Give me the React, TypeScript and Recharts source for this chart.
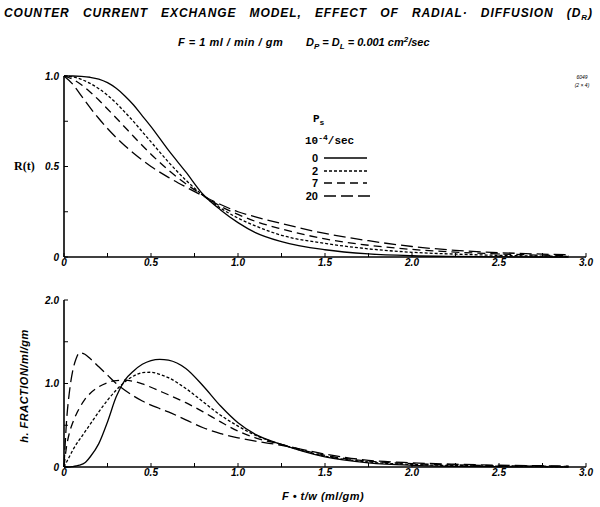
import { LineChart, Line, XAxis, YAxis } from "recharts";

const xTop = [0, 0.05, 0.1, 0.15, 0.2, 0.25, 0.3, 0.35, 0.4, 0.45, 0.5, 0.6, 0.7, 0.8, 0.9, 1.0, 1.1, 1.25, 1.5, 1.75, 2.0, 2.25, 2.5, 2.75, 2.9];

// R(t) for Ps = 0, 2, 7, 20 (x10^-4 /sec)
const r0 = [1, 1, 0.998, 0.993, 0.983, 0.963, 0.932, 0.89, 0.84, 0.78, 0.72, 0.59, 0.47, 0.345, 0.26, 0.19, 0.135, 0.085, 0.04, 0.017, 0.007, 0.003, 0.001, 0, 0];
const r2 = [1, 0.995, 0.981, 0.959, 0.93, 0.894, 0.85, 0.8, 0.748, 0.692, 0.636, 0.525, 0.425, 0.34, 0.27, 0.215, 0.172, 0.12, 0.075, 0.045, 0.026, 0.016, 0.009, 0.005, 0.003];
const r7 = [1, 0.982, 0.952, 0.912, 0.867, 0.818, 0.768, 0.717, 0.666, 0.616, 0.568, 0.48, 0.405, 0.34, 0.28, 0.235, 0.197, 0.155, 0.1, 0.065, 0.042, 0.027, 0.017, 0.01, 0.007];
const r20 = [1, 0.955, 0.89, 0.825, 0.765, 0.71, 0.66, 0.615, 0.573, 0.535, 0.5, 0.44, 0.387, 0.337, 0.29, 0.25, 0.222, 0.185, 0.13, 0.09, 0.058, 0.037, 0.024, 0.016, 0.012];

const xBot = [0, 0.015, 0.03, 0.05, 0.07, 0.09, 0.12, 0.15, 0.2, 0.25, 0.3, 0.35, 0.4, 0.45, 0.5, 0.55, 0.6, 0.7, 0.8, 0.9, 1.0, 1.1, 1.25, 1.5, 1.75, 2.0, 2.25, 2.5, 2.75, 2.9];

// h (fraction / ml / gm)
const h0 = [0, 0, 0, 0.005, 0.012, 0.022, 0.05, 0.12, 0.28, 0.54, 0.84, 1.04, 1.15, 1.23, 1.275, 1.29, 1.28, 1.18, 0.97, 0.73, 0.53, 0.39, 0.27, 0.12, 0.05, 0.02, 0.008, 0.003, 0.001, 0];
const h2 = [0, 0.06, 0.12, 0.2, 0.27, 0.33, 0.42, 0.51, 0.66, 0.8, 0.92, 1.02, 1.09, 1.13, 1.135, 1.11, 1.07, 0.94, 0.78, 0.62, 0.49, 0.38, 0.27, 0.13, 0.06, 0.03, 0.018, 0.01, 0.006, 0.004];
const h7 = [0, 0.25, 0.4, 0.53, 0.63, 0.71, 0.81, 0.88, 0.96, 1.01, 1.035, 1.04, 1.025, 0.995, 0.955, 0.91, 0.865, 0.77, 0.66, 0.54, 0.43, 0.35, 0.27, 0.14, 0.07, 0.04, 0.025, 0.016, 0.01, 0.007];
const h20 = [0, 0.56, 0.88, 1.15, 1.3, 1.37, 1.35, 1.3, 1.2, 1.1, 1.0, 0.92, 0.85, 0.79, 0.74, 0.7, 0.66, 0.565, 0.47, 0.4, 0.35, 0.31, 0.26, 0.155, 0.08, 0.05, 0.033, 0.022, 0.015, 0.011];

const psLabels = ["0", "2", "7", "20"];
const seriesKeys = ["s0", "s2", "s7", "s20"];

const xTicks = [0, 0.25, 0.5, 0.75, 1, 1.25, 1.5, 1.75, 2, 2.25, 2.5, 2.75, 3];
const topYTicks = [0, 0.25, 0.5, 0.75, 1];
const botYTicks = [0, 0.5, 1, 1.5, 2];

const topRows = xTop.map((x, i) => ({ x, s0: r0[i], s2: r2[i], s7: r7[i], s20: r20[i] }));
const botRows = xBot.map((x, i) => ({ x, s0: h0[i], s2: h2[i], s7: h7[i], s20: h20[i] }));

// line looks, same order as psLabels
const dashes = [undefined, "3 2", "8 5", "12 5"];

const letterFont = "'Liberation Sans', Arial, sans-serif";
const tickFont = { fill: "#000", fontSize: 10, fontStyle: "italic", fontWeight: 700, fontFamily: letterFont };
const axisLine = { stroke: "#000", strokeWidth: 1.6 };
const tickLine = { stroke: "#000", strokeWidth: 1 };

const fmtX = (v: number) => (v === 0 ? "0" : v % 0.5 === 0 ? v.toFixed(1) : "");
const fmtTopY = (v: number) => (v === 0 ? "0" : v === 0.5 || v === 1 ? v.toFixed(1) : "");
const fmtBotY = (v: number) => (v === 0 ? "0" : v === 1 || v === 2 ? v.toFixed(1) : "");

function Curves() {
  return seriesKeys.map((k, i) => (
    <Line
      key={k}
      type="monotone"
      dataKey={k}
      stroke="#000"
      strokeWidth={1.3}
      strokeDasharray={dashes[i]}
      dot={false}
      activeDot={false}
      isAnimationActive={false}
    />
  ));
}

export default function App() {
  return (
    <div style={{ position: "absolute", left: 0, top: 0, width: 600, height: 507, background: "#fff" }}>
      {/* R(t) */}
      <div style={{ position: "absolute", left: 0, top: 0 }}>
        <LineChart width={600} height={280} data={topRows} margin={{ top: 76, right: 14, bottom: 5, left: 0 }}>
          <XAxis
            dataKey="x"
            type="number"
            domain={[0, 3]}
            ticks={xTicks}
            interval={0}
            tickFormatter={fmtX}
            axisLine={axisLine}
            tickLine={tickLine}
            tickSize={-4}
            tickMargin={6}
            tick={tickFont}
            height={18}
          />
          <YAxis
            type="number"
            domain={[0, 1]}
            ticks={topYTicks}
            interval={0}
            tickFormatter={fmtTopY}
            axisLine={axisLine}
            tickLine={tickLine}
            tickSize={-4}
            tickMargin={9}
            tick={tickFont}
            width={64}
          />
          {Curves()}
        </LineChart>
      </div>

      {/* h */}
      <div style={{ position: "absolute", left: 0, top: 280 }}>
        <LineChart width={600} height={227} data={botRows} margin={{ top: 20, right: 14, bottom: 20, left: 0 }}>
          <XAxis
            dataKey="x"
            type="number"
            domain={[0, 3]}
            ticks={xTicks}
            interval={0}
            tickFormatter={fmtX}
            axisLine={axisLine}
            tickLine={tickLine}
            tickSize={-4}
            tickMargin={6}
            tick={tickFont}
            height={20}
          />
          <YAxis
            type="number"
            domain={[0, 2]}
            ticks={botYTicks}
            interval={0}
            tickFormatter={fmtBotY}
            axisLine={axisLine}
            tickLine={tickLine}
            tickSize={-4}
            tickMargin={9}
            tick={tickFont}
            width={64}
          />
          {Curves()}
        </LineChart>
      </div>

      {/* titles, axis names, legend */}
      <svg width={600} height={507} style={{ position: "absolute", left: 0, top: 0, pointerEvents: "none" }}>
        <g fontFamily={letterFont} fontStyle="italic" fontWeight={700} fill="#000">
          <text x={4} y={17} fontSize={12} wordSpacing={9} textLength={588} lengthAdjust="spacing">
            COUNTER CURRENT EXCHANGE MODEL, EFFECT OF RADIAL· DIFFUSION (D
            <tspan fontSize={8} dy={3}>R</tspan>
            <tspan dy={-3}>)</tspan>
          </text>
          <text x={178} y={46} fontSize={11} letterSpacing={0.5}>
            F = 1 ml / min / gm
          </text>
          <text x={306} y={46} fontSize={11}>
            D<tspan fontSize={8} dy={3}>P</tspan>
            <tspan dy={-3}> = D</tspan>
            <tspan fontSize={8} dy={3}>L</tspan>
            <tspan dy={-3}> = 0.001  cm</tspan>
            <tspan fontSize={8} dy={-4}>2</tspan>
            <tspan dy={4}>/sec</tspan>
          </text>
          <text x={323} y={500} fontSize={11} textAnchor="middle" letterSpacing={0.5}>
            F • t/w (ml/gm)
          </text>
          <text
            x={0}
            y={0}
            fontSize={11}
            textAnchor="middle"
            letterSpacing={0.5}
            transform="translate(28,386) rotate(-90)"
          >
            h. FRACTION/ml/gm
          </text>
          <text x={582} y={79} fontSize={5} textAnchor="middle" fontWeight={400}>6049</text>
          <text x={582} y={87} fontSize={5} textAnchor="middle" fontWeight={400}>(2 × 4)</text>
        </g>
        <text x={14} y={170} fontSize={12} fontWeight={700} fontFamily="'Liberation Serif', serif">
          R(t)
        </text>

        {/* legend */}
        <g fill="#000">
          <text x={313} y={122} fontSize={11} fontWeight={700} fontFamily="'Liberation Mono', monospace">
            P<tspan fontSize={8} dy={3}>s</tspan>
          </text>
          <text x={305} y={144} fontSize={11} fontWeight={700} fontFamily="'Liberation Mono', monospace">
            10<tspan fontSize={8} dy={-4}>-4</tspan>
            <tspan dy={4}>/sec</tspan>
          </text>
          {psLabels.map((p, i) => {
            const cy = [158, 171, 183, 196][i];
            return (
              <g key={p}>
                <text x={318} y={cy + 4} fontSize={11} fontWeight={700} textAnchor="end" fontFamily={letterFont}>
                  {p}
                </text>
                <line x1={324} x2={i === 3 ? 373 : 367} y1={cy} y2={cy} stroke="#000" strokeWidth={1.3} strokeDasharray={dashes[i]} />
              </g>
            );
          })}
        </g>
      </svg>
    </div>
  );
}
